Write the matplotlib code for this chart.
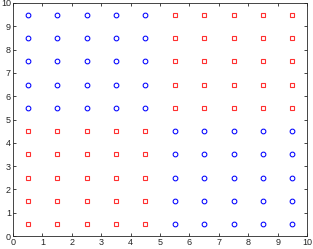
import matplotlib
matplotlib.use("Agg")
import matplotlib.pyplot as plt
import numpy as np

plt.rcParams['font.family'] = ['Liberation Sans', 'DejaVu Sans']

centers = [0.5, 1.5, 2.5, 3.5, 4.5, 5.5, 6.5, 7.5, 8.5, 9.5]
# class per cell: 1 = blue circle, 0 = red square (rows from bottom y=0.5 upward)
labels = [
    [0, 0, 0, 0, 0, 1, 1, 1, 1, 1],
    [0, 0, 0, 0, 0, 1, 1, 1, 1, 1],
    [0, 0, 0, 0, 0, 1, 1, 1, 1, 1],
    [0, 0, 0, 0, 0, 1, 1, 1, 1, 1],
    [0, 0, 0, 0, 0, 1, 1, 1, 1, 1],
    [1, 1, 1, 1, 1, 0, 0, 0, 0, 0],
    [1, 1, 1, 1, 1, 0, 0, 0, 0, 0],
    [1, 1, 1, 1, 1, 0, 0, 0, 0, 0],
    [1, 1, 1, 1, 1, 0, 0, 0, 0, 0],
    [1, 1, 1, 1, 1, 0, 0, 0, 0, 0],
]
ticks = list(range(11))

fig = plt.figure(figsize=(3.13, 2.49), dpi=100)
ax = fig.add_axes([0.0415, 0.052, 0.9395, 0.936])

bx, by, rx, ry = [], [], [], []
for j, row in enumerate(labels):
    for i, c in enumerate(row):
        if c == 1:
            bx.append(centers[i]); by.append(centers[j])
        else:
            rx.append(centers[i]); ry.append(centers[j])

ax.plot(bx, by, linestyle='none', marker='o', markersize=3.4, markerfacecolor='none',
        markeredgecolor='#0000ff', markeredgewidth=0.75)
ax.plot(rx, ry, linestyle='none', marker='s', markersize=3.0, markerfacecolor='none',
        markeredgecolor='#ff3030', markeredgewidth=0.8, snap=False)

ax.set_xlim(0, 10)
ax.set_ylim(0, 10)
ax.set_xticks(ticks)
ax.set_yticks(ticks)
ax.tick_params(direction='in', length=2.5, width=0.6, labelsize=6.5, pad=1.5,
               top=True, right=True, colors='#262626')
for s in ax.spines.values():
    s.set_linewidth(0.6)
    s.set_color('#262626')

fig.savefig("out.png", dpi=100)
